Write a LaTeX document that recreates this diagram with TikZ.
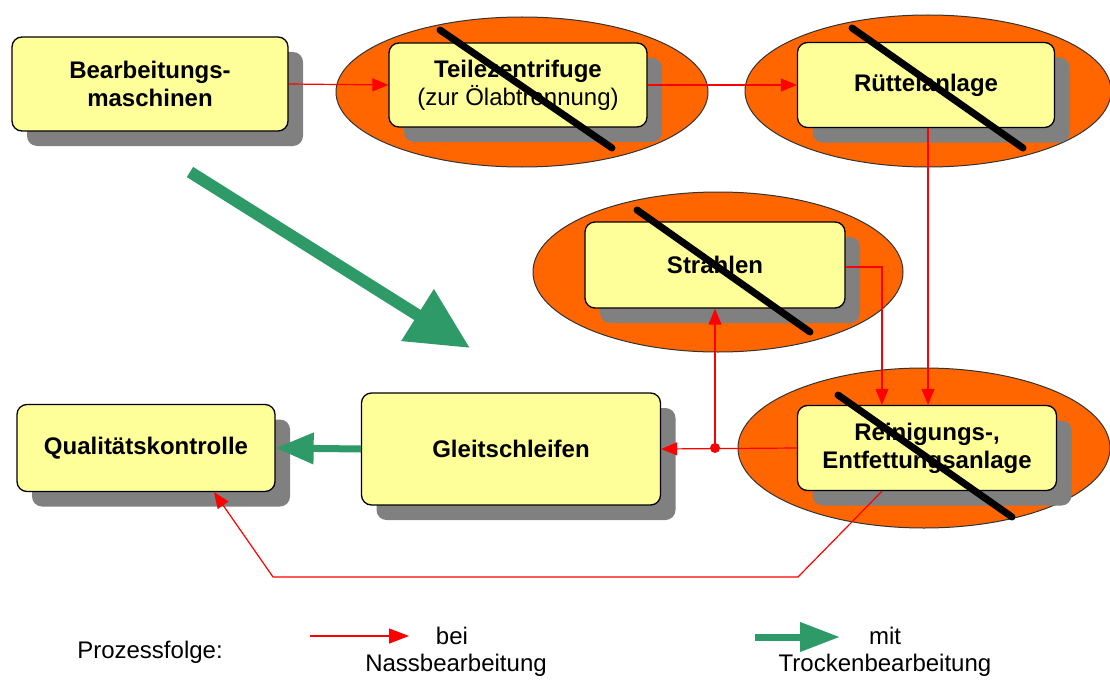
\documentclass[tikz,border=0pt]{standalone}
\usepackage{fontspec}
\setmainfont{Liberation Sans}
\usetikzlibrary{arrows.meta,shadows,calc,shapes.geometric}
\definecolor{boxyellow}{HTML}{FFFF99}
\definecolor{ovalorange}{HTML}{FF6600}
\definecolor{arrowgreen}{HTML}{2E9A68}
\definecolor{shadowgray}{HTML}{808080}
\begin{document}
\begin{tikzpicture}[x=1pt,y=-1pt,
  procbox/.style={draw=black, line width=1.3pt, fill=boxyellow, rounded corners=10pt,
    align=center, font=\fontsize{24}{28}\selectfont\bfseries, inner sep=0pt,
    drop shadow={shadow xshift=15pt, shadow yshift=-15pt, fill=shadowgray, opacity=1}},
  oval/.style={ellipse, draw=black!80, line width=1pt, fill=ovalorange, inner sep=0pt},
  strike/.style={draw=black, line width=7pt, line cap=round},
  redline/.style={draw=red, line width=1.2pt},
  redtip/.style={-{Triangle[length=16pt,width=13pt]}},
  greenline/.style={draw=arrowgreen, line width=7pt, -{Triangle[length=38pt,width=30pt]}},
  legendtext/.style={font=\fontsize{24}{28}\selectfont, inner sep=0pt}
]
\useasboundingbox (0,0) rectangle (1110,682);

% ovals
\node[oval, minimum width=372pt, minimum height=150pt] (o1) at (522,92) {};
\node[oval, minimum width=366pt, minimum height=152pt] (o2) at (928,91) {};
\node[oval, minimum width=370pt, minimum height=160pt] (o3) at (718,272) {};
\node[oval, minimum width=372pt, minimum height=160pt] (o4) at (924,448) {};

% boxes
\node[procbox, minimum width=276pt, minimum height=94pt] (bm) at (150,84) {Bearbeitungs-\\maschinen};
\node[procbox, minimum width=258pt, minimum height=84pt] (tz) at (518,85) {Teilezentrifuge\\{\mdseries (zur Ölabtrennung)}};
\node[procbox, minimum width=257pt, minimum height=85pt] (ru) at (926,85) {Rüttelanlage};
\node[procbox, minimum width=260pt, minimum height=86pt] (st) at (715,265) {Strahlen};
\node[procbox, minimum width=259pt, minimum height=85pt] (re) at (927,448) {Reinigungs-,\\Entfettungsanlage};
\node[procbox, minimum width=299pt, minimum height=112pt] (gl) at (511,449) {Gleitschleifen};
\node[procbox, minimum width=258pt, minimum height=87pt] (qk) at (146,448) {Qualitätskontrolle};

% strike-through lines
\draw[strike] ($(tz.center)+(-78,-55)$) -- ($(tz.center)+(94,63)$);
\draw[strike] ($(ru.center)+(-74,-57)$) -- ($(ru.center)+(97,63)$);
\draw[strike] ($(st.center)+(-78,-55)$) -- ($(st.center)+(95,67)$);
\draw[strike] ($(re.center)+(-89,-53)$) -- ($(re.center)+(85,69)$);

% red connectors (wet processing)
\draw[redline, redtip] (bm.east) -- (tz.west);
\draw[redline, redtip] (tz.east) -- (ru.west);
\draw[redline, redtip] ([xshift=2pt]ru.south) -- ([xshift=2pt]ru.south |- re.north);
\draw[redline, redtip] ([yshift=-2pt]st.east) -| ([xshift=-45pt]re.north);
\coordinate (dot) at (715,448);
\draw[redline, redtip] (re.west) -- (gl.east);
\fill[red] (dot) circle (5pt);
\draw[redline, redtip] (dot) -- (st.south);
\coordinate (k1) at (798,577);
\coordinate (k2) at (273,577);
\draw[redline, redtip] ([xshift=-45pt]re.south) -- (k1) -- (k2) -- ([xshift=68pt]qk.south);

% green connectors (dry processing)
\draw[greenline] (gl.west) -- (qk.east);
\coordinate (gA) at (190,172);
\coordinate (gB) at (470,348);
\draw[draw=arrowgreen, line width=12pt, -{Triangle[length=62pt,width=58pt]}] (gA) -- (gB);

% legend
\node[legendtext] (pf) at (150,652) {Prozessfolge:};
\coordinate (lr1) at (310,636);
\coordinate (lr2) at (409,636);
\draw[redline, -{Triangle[length=20pt,width=15pt]}] (lr1) -- (lr2);
\node[legendtext] (bei) at (452,636) {bei};
\node[legendtext] (nass) at (456,665) {Nassbearbeitung};
\coordinate (lg1) at (755,637);
\coordinate (lg2) at (840,637);
\draw[draw=arrowgreen, line width=7pt, -{Triangle[length=40pt,width=28pt]}] (lg1) -- (lg2);
\node[legendtext] (mit) at (885,636) {mit};
\node[legendtext] (trocken) at (885,665) {Trockenbearbeitung};
\end{tikzpicture}
\end{document}
